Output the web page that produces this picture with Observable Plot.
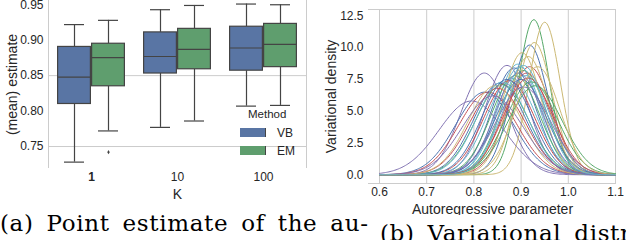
<!DOCTYPE html>
<html><head><meta charset="utf-8">
<script src="https://cdn.jsdelivr.net/npm/d3@7"></script>
<script src="https://cdn.jsdelivr.net/npm/@observablehq/plot@0.6"></script>
<style>
body{margin:0;background:#fff;}
#wrap{position:relative;width:626px;height:240px;overflow:hidden;font-family:"Liberation Sans",Arial,sans-serif;color:#262626;}
.abs{position:absolute;}
.cap{position:absolute;font-family:"DejaVu Serif",serif;font-size:23px;line-height:1;color:#000;white-space:nowrap;letter-spacing:0.65px;word-spacing:5px;}
.sw{position:absolute;width:25px;height:9px;border-right:1px solid #444;}
.lt{position:absolute;font-size:11.5px;line-height:1;font-family:"Liberation Sans",Arial,sans-serif;}
g[aria-label="x-axis label"] text, g[aria-label="y-axis label"] text, g[aria-label="fx-axis label"] text, text.biglab {font-size:14px !important;}
</style></head><body><div id="wrap"></div>
<script>
// ---------- data: panel (a) ----------
const kLevels = ["1", "10", "100"];
const methods = ["VB", "EM"];
const boxK      = ["1", "1", "10", "10", "100", "100"];
const boxMethod = ["VB", "EM", "VB", "EM", "VB", "EM"];
const whiskerLo = [0.728, 0.772, 0.777, 0.786, 0.807, 0.808];
const q1        = [0.810, 0.835, 0.853, 0.859, 0.857, 0.862];
const med       = [0.848, 0.8755, 0.877, 0.887, 0.889, 0.894];
const q3        = [0.8905, 0.895, 0.911, 0.916, 0.919, 0.923];
const whiskerHi = [0.922, 0.928, 0.943, 0.949, 0.951, 0.950];
const outlierK = ["1"];
const outlierMethod = ["EM"];
const outlierVal = [0.742];
const yTicksA = [0.75, 0.80, 0.85, 0.90, 0.95];
const gridA = [0.75, 0.85];
const yDomainA = [0.719, 0.956];

// ---------- data: panel (b) ----------
const xTicksB = [0.6, 0.7, 0.8, 0.9, 1.0, 1.1];
const yTicksB = [0, 2.5, 5, 7.5, 10, 12.5];
const xDomainB = [0.5767, 1.1021];
const yDomainB = [-0.69, 13.0];
// mode (x of peak) and peak height of each variational density
const curveMode = [0.918, 0.927, 0.918, 0.822, 0.950, 0.893,
                   0.823, 0.905, 0.912, 0.870, 0.928, 0.897,
                   0.885, 0.888, 0.830, 0.795, 0.902, 0.880,
                   0.855, 0.860, 0.875, 0.895, 0.915, 0.910,
                   0.900, 0.922, 0.850, 0.905, 0.845, 0.860,
                   0.870, 0.930, 0.915, 0.840, 0.935, 0.905];
const curvePeak = [10.2, 12.2, 8.5, 8.0, 12.0, 8.7,
                   6.5, 8.2, 8.0, 8.6, 10.4, 8.5,
                   8.4, 7.8, 6.5, 5.8, 9.6, 7.6,
                   7.2, 7.1, 7.4, 8.0, 9.3, 7.8,
                   7.5, 7.3, 6.8, 6.9, 7.0, 7.3,
                   7.5, 7.0, 7.6, 6.2, 8.5, 8.6];

const palette = ["#4C72B0", "#55A868", "#C44E52", "#8172B2", "#CCB974", "#64B5CD"];
const boxFill = {VB: "#5975A4", EM: "#5F9E6E"};
const ink = "#262626";
const edge = "#444444";
const gridC = "#cccccc";

const wrap = document.getElementById("wrap");

function enlargeLabels(svg, labels) {
  svg.querySelectorAll("text").forEach(t => {
    if (labels.includes(t.textContent.trim())) {
      t.classList.add("biglab");
      t.setAttribute("font-size", "14");
      t.style.fontSize = "14px";
    }
  });
}

// ---------- panel (a) ----------
const boxes = boxK.map((k, i) => ({K: k, M: boxMethod[i], lo: whiskerLo[i], q1: q1[i], med: med[i], q3: q3[i], hi: whiskerHi[i]}));
const outliers = outlierK.map((k, i) => ({K: k, M: outlierMethod[i], v: outlierVal[i]}));

const plotA = Plot.plot({
  width: 310, height: 200,
  marginLeft: 48, marginRight: 4, marginTop: 0, marginBottom: 32,
  style: {fontFamily: "'Liberation Sans', Arial, sans-serif", fontSize: "12px", color: ink, background: "transparent"},
  fx: {domain: kLevels, paddingInner: 0, paddingOuter: 0, label: "K", axis: "bottom", tickSize: 0, tickPadding: 4, labelAnchor: "center", labelOffset: 30},
  x: {domain: methods, paddingInner: 0, paddingOuter: 0.25, axis: null},
  y: {domain: yDomainA, ticks: yTicksA, tickFormat: ".2f", tickSize: 0, tickPadding: 5, label: "(mean) estimate", labelAnchor: "center", labelOffset: 41, labelArrow: "none"},
  marks: [
    Plot.ruleY(gridA, {stroke: gridC, strokeWidth: 1}),
    Plot.ruleX(boxes, {fx: "K", x: "M", y1: "q3", y2: "hi", stroke: edge, strokeWidth: 1.2}),
    Plot.ruleX(boxes, {fx: "K", x: "M", y1: "lo", y2: "q1", stroke: edge, strokeWidth: 1.2}),
    Plot.tickY(boxes, {fx: "K", x: "M", y: "hi", stroke: edge, strokeWidth: 1.2, insetLeft: 7, insetRight: 7}),
    Plot.tickY(boxes, {fx: "K", x: "M", y: "lo", stroke: edge, strokeWidth: 1.2, insetLeft: 7, insetRight: 7}),
    Plot.barY(boxes, {fx: "K", x: "M", y1: "q1", y2: "q3", fill: d => boxFill[d.M], stroke: edge, strokeWidth: 1.2, insetLeft: 0.6, insetRight: 0.6}),
    Plot.tickY(boxes, {fx: "K", x: "M", y: "med", stroke: edge, strokeWidth: 1.2, insetLeft: 0.6, insetRight: 0.6}),
    Plot.dot(outliers, {fx: "K", x: "M", y: "v", symbol: "diamond", r: 1.3, fill: edge, stroke: "none"})
  ]
});
plotA.style.position = "absolute"; plotA.style.left = "0px"; plotA.style.top = "0px";
wrap.appendChild(plotA);
plotA.querySelectorAll("text").forEach(t => { if (t.textContent.trim() === "1") t.setAttribute("font-weight", "bold"); });
enlargeLabels(plotA, ["K", "(mean) estimate"]);

// spines of panel (a)
const spA = document.createElement("div");
spA.className = "abs";
Object.assign(spA.style, {left: "48px", top: "0px", width: "257px", height: "168px", borderLeft: "1px solid " + gridC, borderRight: "1px solid " + gridC});
wrap.appendChild(spA);

// legend of panel (a)
const legTitle = document.createElement("div");
legTitle.className = "lt"; legTitle.textContent = "Method";
Object.assign(legTitle.style, {left: "248px", top: "109px"});
wrap.appendChild(legTitle);
methods.forEach((m, i) => {
  const sw = document.createElement("div");
  sw.className = "sw";
  Object.assign(sw.style, {left: "240px", top: (128 + i * 18) + "px", background: boxFill[m]});
  wrap.appendChild(sw);
  const lt = document.createElement("div");
  lt.className = "lt"; lt.textContent = m;
  Object.assign(lt.style, {left: "277px", top: (127 + i * 18) + "px", fontSize: "12px"});
  wrap.appendChild(lt);
});

// ---------- panel (b) ----------
const seriesNames = curveMode.map((_, i) => "s" + i);
const pts = [];
curveMode.forEach((mu, i) => {
  const h = curvePeak[i];
  const sd = 1 / (h * Math.sqrt(2 * Math.PI));
  for (let k = 0; k <= 200; k++) {
    const x = 0.6 + k * 0.0025;
    pts.push({s: seriesNames[i], x, y: h * Math.exp(-0.5 * ((x - mu) / sd) ** 2)});
  }
});

const plotB = Plot.plot({
  width: 316, height: 215,
  marginLeft: 58, marginRight: 10, marginTop: 9, marginBottom: 32,
  style: {fontFamily: "'Liberation Sans', Arial, sans-serif", fontSize: "12px", color: ink, background: "transparent"},
  x: {domain: xDomainB, ticks: xTicksB, tickFormat: ".1f", tickSize: 0, tickPadding: 4, label: "Autoregressive parameter", labelAnchor: "center", labelOffset: 30, labelArrow: "none"},
  y: {domain: yDomainB, ticks: yTicksB, tickFormat: ".1f", tickSize: 0, tickPadding: 5, label: "Variational density", labelAnchor: "center", labelOffset: 42, labelArrow: "none"},
  color: {domain: seriesNames, range: seriesNames.map((_, i) => palette[i % palette.length])},
  marks: [
    Plot.gridX(xTicksB, {stroke: gridC, strokeOpacity: 1, strokeWidth: 1}),
    Plot.ruleY(yDomainB, {stroke: gridC, strokeWidth: 1}),
    Plot.line(pts, {x: "x", y: "y", z: "s", stroke: "s", strokeWidth: 1, curve: "linear"})
  ]
});
plotB.style.position = "absolute"; plotB.style.left = "310px"; plotB.style.top = "0px";
wrap.appendChild(plotB);
enlargeLabels(plotB, ["Autoregressive parameter", "Variational density"]);

// ---------- captions ----------
const capA = document.createElement("div");
capA.className = "cap"; capA.textContent = "(a) Point estimate of the au-";
Object.assign(capA.style, {left: "0px", top: "212px"});
wrap.appendChild(capA);
const capB = document.createElement("div");
capB.className = "cap"; capB.textContent = "(b) Variational distribution";
Object.assign(capB.style, {left: "380px", top: "222px"});
wrap.appendChild(capB);
</script></body></html>
